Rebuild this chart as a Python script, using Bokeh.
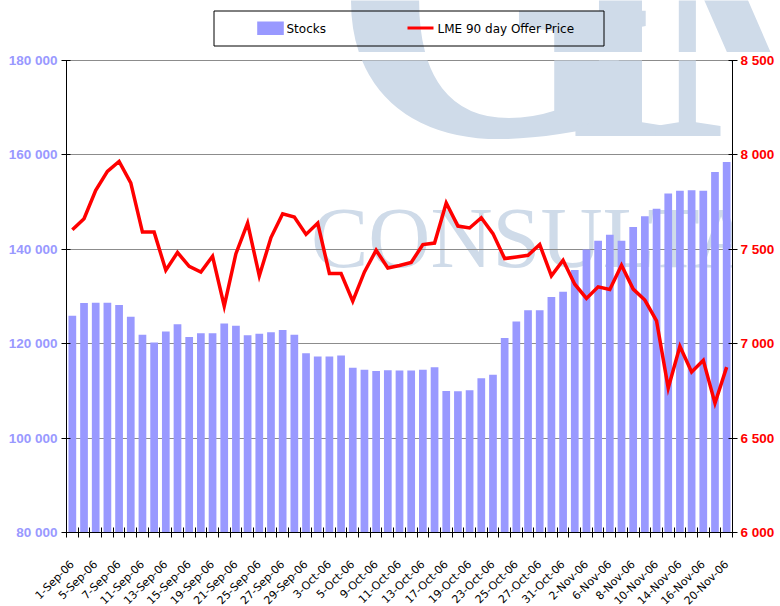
import math
from bokeh.plotting import figure
from bokeh.layouts import column
from bokeh.models import Range1d, LinearAxis, FixedTicker, ColumnDataSource
from bokeh.core.properties import value
from bokeh.embed import file_html
from bokeh.resources import INLINE

# ---------------- data ----------------
dates = [
    "1-Sep-06", "4-Sep-06", "5-Sep-06", "6-Sep-06", "7-Sep-06", "8-Sep-06",
    "11-Sep-06", "12-Sep-06", "13-Sep-06", "14-Sep-06", "15-Sep-06",
    "18-Sep-06", "19-Sep-06", "20-Sep-06", "21-Sep-06", "22-Sep-06",
    "25-Sep-06", "26-Sep-06", "27-Sep-06", "28-Sep-06", "29-Sep-06",
    "2-Oct-06", "3-Oct-06", "4-Oct-06", "5-Oct-06", "6-Oct-06",
    "9-Oct-06", "10-Oct-06", "11-Oct-06", "12-Oct-06", "13-Oct-06",
    "16-Oct-06", "17-Oct-06", "18-Oct-06", "19-Oct-06", "20-Oct-06",
    "23-Oct-06", "24-Oct-06", "25-Oct-06", "26-Oct-06", "27-Oct-06",
    "30-Oct-06", "31-Oct-06",
    "1-Nov-06", "2-Nov-06", "3-Nov-06",
    "6-Nov-06", "7-Nov-06", "8-Nov-06", "9-Nov-06", "10-Nov-06",
    "13-Nov-06", "14-Nov-06", "15-Nov-06", "16-Nov-06", "17-Nov-06",
    "20-Nov-06",
]

stocks = [
    125900, 128600, 128700, 128700, 128200, 125700,
    121900, 120250, 122600, 124100, 121400,
    122200, 122200, 124300, 123800, 121800,
    122100, 122400, 122900, 121900, 118000,
    117300, 117300, 117500, 114900, 114500,
    114200, 114400, 114300, 114300, 114500,
    115000, 110000, 109900, 110150, 112700,
    113400, 121200, 124700, 127100, 127100,
    129900, 131000,
    135600, 139950, 141800,
    143100, 141800, 144700, 147000, 148600,
    151800, 152400, 152500, 152400, 156400,
    158500,
]

price = [
    7604, 7662, 7812, 7913, 7965, 7852,
    7591, 7591, 7389, 7483, 7410,
    7380, 7463, 7199, 7477, 7639,
    7359, 7562, 7688, 7671, 7579,
    7639, 7372, 7372, 7225, 7380,
    7495, 7401, 7414, 7430, 7525,
    7533, 7745, 7623, 7613, 7667,
    7583, 7451, 7459, 7468, 7525,
    7359, 7442,
    7315, 7240, 7301,
    7287, 7415, 7289, 7231, 7121,
    6765, 6986, 6850, 6912, 6685,
    6876,
]

stock_ticks = [80000, 100000, 120000, 140000, 160000, 180000]
stock_tick_labels = ["80 000", "100 000", "120 000", "140 000", "160 000", "180 000"]
price_ticks = [6000, 6500, 7000, 7500, 8000, 8500]
price_tick_labels = ["6 000", "6 500", "7 000", "7 500", "8 000", "8 500"]

series_names = ["Stocks", "LME 90 day Offer Price"]
watermark_big = ["G", "I", "M"]
watermark_word = "CONSULTANTS"

# ---------------- layout constants (pixels) ----------------
W = 780
HEAD_H = 52
FRAME_L, FRAME_R = 66, 732          # frame left / right in page pixels
TOP_B, FRAME_H, BOT_B = 8, 472, 10  # main figure borders and frame height
FOOT_H = 606 - HEAD_H - (TOP_B + FRAME_H + BOT_B)

BAR = "#9999ff"
GRID = "#8c8c8c"
WM = "#cfdbe9"
RED = "#ff0000"

n = len(dates)
xs = list(range(n))
x0, x1 = -0.5, n - 0.5
px_per_unit = (FRAME_R - FRAME_L) / (x1 - x0)

# big watermark letters: (page x, page y of text anchor, align, font size)
big_pos = [(330, -7, "left", "420px"), (620, 41, "center", "280px"), (650, 41, "left", "280px")]
word_x, word_y = 310.5, 237


def page_to_x(px):
    return x0 + (px - FRAME_L) / px_per_unit


def page_to_stock(py):
    frame_top = HEAD_H + TOP_B
    return stock_ticks[-1] - (py - frame_top) / FRAME_H * (stock_ticks[-1] - stock_ticks[0])


def no_align(fig):
    if "frame_align" in fig.properties():
        fig.frame_align = False


# ---------------- head (legend) ----------------
head = figure(width=W, height=HEAD_H, output_backend="svg", toolbar_location=None,
              x_range=Range1d(0, W), y_range=Range1d(HEAD_H, 0),
              x_axis_type=None, y_axis_type=None, min_border=0)
no_align(head)
head.outline_line_color = None
head.background_fill_color = "white"
head.border_fill_color = "white"
for letter, (px, py, al, fs) in zip(watermark_big, big_pos):
    head.text(x=[px], y=[py], text=[letter], text_font=value("Liberation Serif"),
              text_font_style="bold", text_font_size=fs, text_color=WM,
              text_align=al, text_baseline="alphabetic")
head.quad(left=[213.5], right=[603.5], top=[10.5], bottom=[45.5],
          fill_alpha=0, line_color="black", line_width=1)
head.quad(left=[256.7], right=[283.3], top=[21], bottom=[34.6],
          fill_color=BAR, line_color=None)
head.line(x=[407, 433], y=[27.5, 27.5], line_color=RED, line_width=3)
head.text(x=[286, 437], y=[28.5, 28.5], text=series_names,
          text_font=value("DejaVu Sans"), text_font_size="12px",
          text_color="black", text_baseline="middle", text_align="left")

# ---------------- main chart ----------------
src = ColumnDataSource(dict(x=xs, stocks=stocks, price=price, date=dates))

p = figure(width=W, height=TOP_B + FRAME_H + BOT_B, output_backend="svg",
           toolbar_location=None,
           x_range=Range1d(x0, x1),
           y_range=Range1d(stock_ticks[0], stock_ticks[-1]),
           min_border_left=FRAME_L, min_border_right=W - FRAME_R,
           min_border_top=TOP_B, min_border_bottom=BOT_B)
no_align(p)
p.extra_y_ranges = {"price": Range1d(price_ticks[0], price_ticks[-1])}
p.background_fill_color = "white"
p.border_fill_color = "white"
p.outline_line_color = GRID

# watermark inside the frame (drawn beneath grid and bars)
for letter, (px, py, al, fs) in zip(watermark_big, big_pos):
    p.text(x=[page_to_x(px)], y=[page_to_stock(py)], text=[letter],
           text_font=value("Liberation Serif"), text_font_style="bold",
           text_font_size=fs, text_color=WM, text_align=al,
           text_baseline="alphabetic", level="image")
p.text(x=[page_to_x(word_x)], y=[page_to_stock(word_y)], text=[watermark_word],
       text_font=value("Liberation Serif"), text_font_size="86px", text_color=WM,
       text_align="left", text_baseline="alphabetic", level="image")

p.xgrid.visible = False
p.ygrid[0].ticker = FixedTicker(ticks=stock_ticks)
p.ygrid.grid_line_color = GRID
p.ygrid.grid_line_width = 1

bars = p.vbar(x="x", top="stocks", bottom=stock_ticks[0], width=0.66, source=src,
              fill_color=BAR, line_color=None)
line = p.line(x="x", y="price", source=src, y_range_name="price",
              line_color=RED, line_width=3.5, line_join="miter")

# x axis: ticks at category boundaries, labels drawn in the footer
xa = p.xaxis[0]
xa.ticker = FixedTicker(ticks=[], minor_ticks=[i - 0.5 for i in range(n + 1)])
xa.major_tick_in = 0
xa.major_tick_out = 0
xa.minor_tick_in = 5
xa.minor_tick_out = 5
xa.minor_tick_line_color = "black"
xa.major_label_standoff = 0
xa.axis_line_color = "black"

# left axis
ya = p.yaxis[0]
ya.ticker = FixedTicker(ticks=stock_ticks)
ya.major_label_overrides = dict(zip(stock_ticks, stock_tick_labels))
ya.major_label_text_color = BAR
ya.major_label_text_font = "Liberation Sans"
ya.major_label_text_font_style = "bold"
ya.major_label_text_font_size = "13.5px"
ya.major_tick_in = 4
ya.major_tick_out = 5
ya.minor_tick_line_color = None
ya.major_label_standoff = 4
ya.axis_line_color = "black"

# right axis
ra = LinearAxis(y_range_name="price")
ra.ticker = FixedTicker(ticks=price_ticks)
ra.major_label_overrides = dict(zip(price_ticks, price_tick_labels))
ra.major_label_text_color = RED
ra.major_label_text_font = "Liberation Sans"
ra.major_label_text_font_style = "bold"
ra.major_label_text_font_size = "13.5px"
ra.major_tick_in = 4
ra.major_tick_out = 5
ra.minor_tick_line_color = None
ra.major_label_standoff = 3
ra.axis_line_color = "black"
p.add_layout(ra, "right")

# ---------------- footer (date labels) ----------------
foot = figure(width=W, height=FOOT_H, output_backend="svg", toolbar_location=None,
              x_range=Range1d(x0 - FRAME_L / px_per_unit, x1 + (W - FRAME_R) / px_per_unit),
              y_range=Range1d(FOOT_H, 0),
              x_axis_type=None, y_axis_type=None, min_border=0)
no_align(foot)
foot.outline_line_color = None
foot.background_fill_color = "white"
foot.border_fill_color = "white"
lab_src = ColumnDataSource(dict(x=[xs[i] for i in xs[::2]],
                                y=[20] * len(xs[::2]),
                                text=[dates[i] for i in xs[::2]]))
foot.text(x="x", y="y", text="text", source=lab_src, angle=math.pi / 4,
          text_align="right", text_baseline="middle",
          text_font=value("DejaVu Sans"), text_font_size="11px", text_color="black")

layout = column(head, p, foot, spacing=0)
open("out.html", "w").write(file_html(layout, INLINE, title="Stocks vs LME price"))
